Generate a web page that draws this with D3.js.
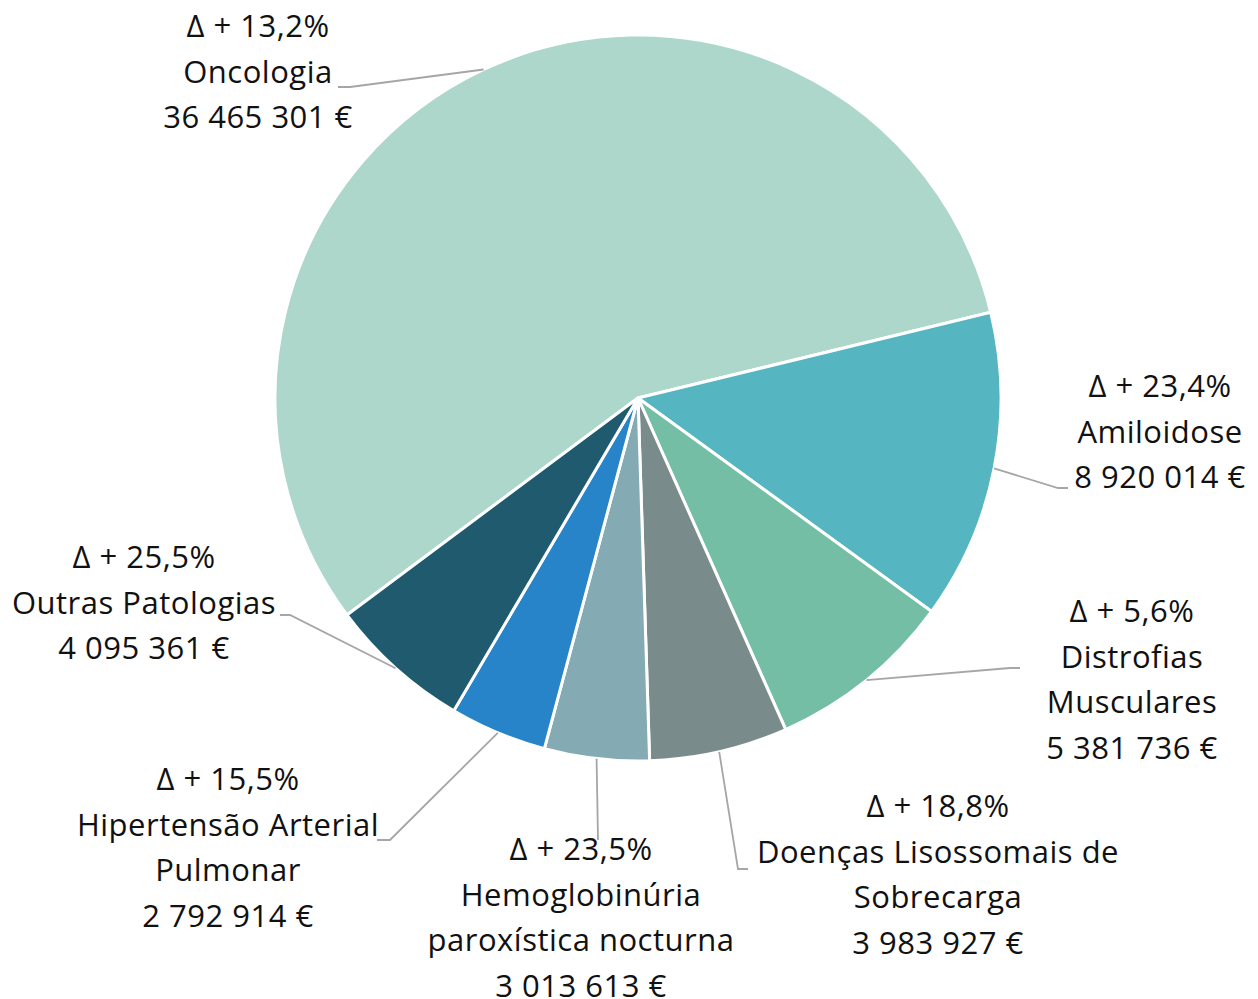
<!DOCTYPE html>
<html>
<head>
<meta charset="utf-8">
<script src="https://cdn.jsdelivr.net/npm/d3@7"></script>
<style>
  body { margin: 0; background: #fff; }
  text { font-family: "Open Sans", Lato, sans-serif; fill: #111; }
</style>
</head>
<body>
<svg id="chart" width="1258" height="999"></svg>
<script>
// data
const categories = ['Oncologia', 'Amiloidose', 'Distrofias Musculares', 'Doenças Lisossomais de Sobrecarga',
  'Hemoglobinúria paroxística nocturna', 'Hipertensão Arterial Pulmonar', 'Outras Patologias'];
const labelLines = [['Oncologia'], ['Amiloidose'], ['Distrofias', 'Musculares'], ['Doenças Lisossomais de', 'Sobrecarga'],
  ['Hemoglobinúria', 'paroxística nocturna'], ['Hipertensão Arterial', 'Pulmonar'], ['Outras Patologias']];
const values = [36465301, 8920014, 5381736, 3983927, 3013613, 2792914, 4095361];
const deltas = [13.2, 23.4, 5.6, 18.8, 23.5, 15.5, 25.5];
const colors = ['#add7cb', '#55b5c0', '#74bea6', '#7a8b8c', '#84aab3', '#2884c8', '#1f5a6e'];

// label layout: text centre x, first baseline y, leader elbow and end
const labelPos = [
  { x: 258, y: 37, elbow: [350, 87], end: [338, 87] },
  { x: 1160, y: 397, elbow: [1058, 488], end: [1068, 488] },
  { x: 1132, y: 622, elbow: [1010, 668], end: [1020, 668] },
  { x: 938, y: 817, elbow: [738, 869], end: [748, 869] },
  { x: 581, y: 860, elbow: [598, 840], end: [598, 840] },
  { x: 228, y: 790, elbow: [390, 840], end: [377, 840] },
  { x: 144, y: 568, elbow: [290, 615], end: [280, 615] }
];

const cx = 638, cy = 398, radius = 363;
const lineH = 45.5;

const locale = d3.formatLocale({ decimal: ',', thousands: '\u00a0', grouping: [3], currency: ['', ' €'] });
const fmtVal = locale.format(',d');
const fmtPct = locale.format('.1f');

const svg = d3.select('#chart');
const g = svg.append('g').attr('transform', `translate(${cx},${cy})`);

const startA = 233.3 * Math.PI / 180;
const pie = d3.pie().sort(null).value(d => d)
  .startAngle(startA).endAngle(startA + 2 * Math.PI);
const arcs = pie(values);
const arc = d3.arc().innerRadius(0).outerRadius(radius);

g.selectAll('path.slice')
  .data(arcs)
  .join('path')
  .attr('class', 'slice')
  .attr('d', arc)
  .attr('fill', (d, i) => colors[i])
  .attr('stroke', '#fff')
  .attr('stroke-width', 3)
  .attr('stroke-linejoin', 'round');

// leader lines
svg.append('g')
  .selectAll('polyline')
  .data(arcs)
  .join('polyline')
  .attr('fill', 'none')
  .attr('stroke', '#a6a6a6')
  .attr('stroke-width', 1.8)
  .attr('points', (d, i) => {
    const a = (d.startAngle + d.endAngle) / 2;
    const p0 = [cx + radius * Math.sin(a), cy - radius * Math.cos(a)];
    const lp = labelPos[i];
    return [p0, lp.elbow, lp.end].map(p => p.join(',')).join(' ');
  });

// labels
const labels = svg.append('g')
  .selectAll('text')
  .data(arcs)
  .join('text')
  .attr('text-anchor', 'middle')
  .attr('font-size', 31)
  .attr('letter-spacing', 0.5)
  .attr('x', (d, i) => labelPos[i].x)
  .attr('y', (d, i) => labelPos[i].y);

labels.each(function (d, i) {
  const lines = ['\u0394 + ' + fmtPct(deltas[i]) + '%', ...labelLines[i], fmtVal(values[i]) + ' €'];
  d3.select(this).selectAll('tspan')
    .data(lines)
    .join('tspan')
    .attr('x', labelPos[i].x)
    .attr('dy', (t, j) => j === 0 ? 0 : lineH)
    .text(t => t);
});
</script>
</body>
</html>
